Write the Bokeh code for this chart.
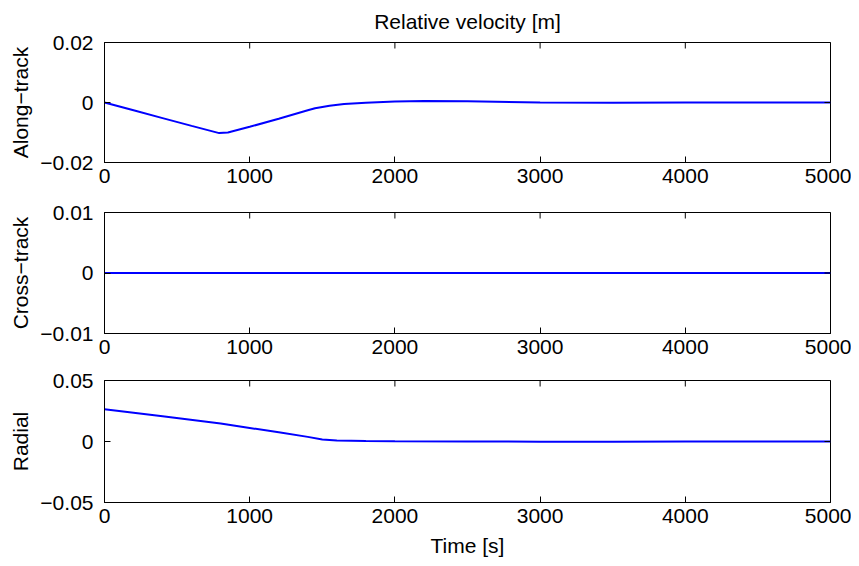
import math
from bokeh.plotting import figure
from bokeh.models import Range1d, FixedTicker
from bokeh.layouts import column
from bokeh.embed import file_html
from bokeh.resources import INLINE

# ---- data ----
t_along = [0, 200, 400, 600, 790, 850, 1000, 1200, 1400, 1450, 1550, 1650, 1800, 2000, 2200, 2500, 3000, 3500, 4000, 4500, 5000]
v_along = [0.0, -0.0026, -0.0052, -0.0078, -0.0102, -0.0100, -0.0081, -0.0054, -0.0026, -0.0019, -0.0011, -0.0005, -0.0001, 0.0003, 0.0005, 0.0004, 0.0, -0.0001, 0.0, 0.0, 0.0]

t_cross = [0, 1000, 2000, 3000, 4000, 5000]
v_cross = [0.0, 0.0, 0.0, 0.0, 0.0, 0.0]

t_radial = [0, 400, 800, 1000, 1200, 1400, 1500, 1600, 1800, 2000, 2500, 3000, 3500, 4000, 4500, 5000]
v_radial = [0.0265, 0.0207, 0.0147, 0.0111, 0.0075, 0.0038, 0.0017, 0.0009, 0.0005, 0.0003, 0.0001, -0.0002, -0.0002, -0.0001, 0.0, 0.0]

x_ticks = [0, 1000, 2000, 3000, 4000, 5000]
along_ticks = [-0.02, 0, 0.02]
cross_ticks = [-0.01, 0, 0.01]
radial_ticks = [-0.05, 0, 0.05]
along_labels = ["\u22120.02", "0", "0.02"]
cross_labels = ["\u22120.01", "0", "0.01"]
radial_labels = ["\u22120.05", "0", "0.05"]
title_text = "Relative velocity [m]"

FONT = "Liberation Sans"
FS = "21px"
BLUE = "#0000ff"


def make_panel(t, v, yticks, ylabels, ylabel, height, btop, bbottom, xlabel=None, title=None):
    p = figure(width=851, height=height, output_backend="svg", toolbar_location=None,
               x_range=Range1d(0, 5000), y_range=Range1d(yticks[0], yticks[-1]),
               min_border_left=104, min_border_right=21, min_border_top=btop,
               min_border_bottom=bbottom, background_fill_color="white",
               border_fill_color="white")
    p.xgrid.visible = False
    p.ygrid.visible = False
    p.outline_line_color = "black"
    p.outline_line_width = 1
    p.line(t, v, line_color=BLUE, line_width=2)

    # mirrored inward ticks on the top and right edges (half of each dash is clipped by the frame)
    p.scatter(x_ticks, [yticks[-1]] * len(x_ticks), marker="dash", angle=math.pi / 2,
              size=12, line_color="black", line_width=1)
    p.scatter([5000] * len(yticks), yticks, marker="dash", size=12,
              line_color="black", line_width=1)

    xa = p.xaxis[0]
    ya = p.yaxis[0]
    for ax in (xa, ya):
        ax.major_tick_in = 6
        ax.major_tick_out = 0
        ax.minor_tick_in = 0
        ax.minor_tick_out = 0
        ax.axis_line_color = "black"
        ax.major_tick_line_color = "black"
        ax.major_label_text_font = FONT
        ax.major_label_text_font_size = FS
        ax.major_label_text_color = "black"
        ax.axis_label_text_font = FONT
        ax.axis_label_text_font_style = "normal"
        ax.axis_label_text_font_size = FS
        ax.axis_label_text_color = "black"

    xa.ticker = FixedTicker(ticks=x_ticks)
    xa.major_label_standoff = 6
    ya.ticker = FixedTicker(ticks=yticks)
    ya.major_label_overrides = {tk: lb for tk, lb in zip(yticks, ylabels)}
    ya.major_label_standoff = 11
    ya.axis_label = ylabel
    ya.axis_label_standoff = 5
    if xlabel:
        xa.axis_label = xlabel
        xa.axis_label_standoff = 8
    if title:
        p.title.text = title
        p.title.text_font = FONT
        p.title.text_font_size = FS
        p.title.text_font_style = "normal"
        p.title.text_color = "black"
        p.title.align = "center"
        p.title.vertical_align = "top"
        p.title.standoff = 15
        p.title.offset = 0
    return p


p1 = make_panel(t_along, v_along, along_ticks, along_labels, "Along\u2212track", 192, 42, 30,
                title=title_text)
p2 = make_panel(t_cross, v_cross, cross_ticks, cross_labels, "Cross\u2212track", 171, 20, 30)
p3 = make_panel(t_radial, v_radial, radial_ticks, radial_labels, "Radial", 203, 17, 64,
                xlabel="Time [s]")

layout = column(p1, p2, p3, spacing=0)
open("out.html", "w").write(file_html(layout, INLINE))
